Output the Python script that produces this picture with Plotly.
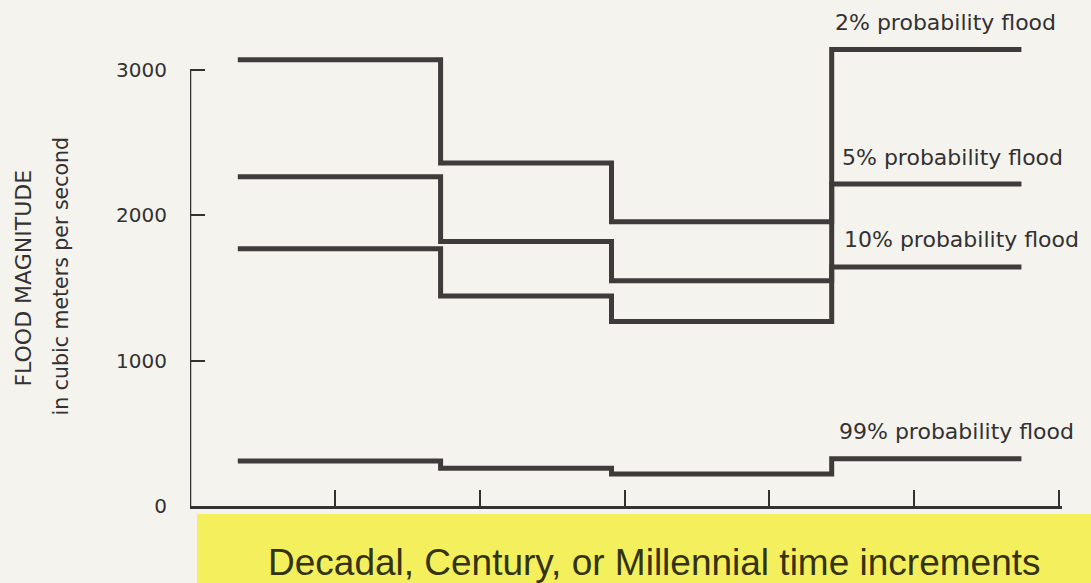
import plotly.graph_objects as go

# Time increments (x units) where each flood regime begins/ends
step_edges = [0.33, 1.73, 2.91, 4.43, 5.74]

# Flood magnitude (m^3/s) for each of the four time increments
flood_2pct = [3070, 2360, 1955, 3140]
flood_5pct = [2265, 1820, 1550, 2215]
flood_10pct = [1770, 1445, 1270, 1645]
flood_99pct = [310, 260, 220, 325]

series_names = ["2% probability flood", "5% probability flood",
                "10% probability flood", "99% probability flood"]
series_values = [flood_2pct, flood_5pct, flood_10pct, flood_99pct]
label_x = [4.44, 4.49, 4.50, 4.47]

y_ticks = [0, 1000, 2000, 3000]
x_ticks = [1, 2, 3, 4, 5, 6]

LINE = "#3f3b3b"
INK = "#333131"
LABEL_FONT = "DejaVu Sans"

fig = go.Figure()

for name, vals, lx in zip(series_names, series_values, label_x):
    fig.add_trace(go.Scatter(
        x=step_edges,
        y=vals + [vals[-1]],
        mode="lines",
        line=dict(color=LINE, width=5, shape="hv"),
        name=name,
        showlegend=False,
        hoverinfo="skip",
    ))
    fig.add_annotation(
        x=lx, y=vals[-1], xref="x", yref="y",
        text=name, showarrow=False, xanchor="left", yanchor="middle",
        yshift=27, font=dict(family=LABEL_FONT, size=22, color=INK),
    )

# vertical axis line only spans the labelled range
fig.add_shape(type="line", xref="x", yref="y", x0=0, x1=0, y0=0, y1=y_ticks[-1],
              line=dict(color=INK, width=2.5))

# yellow caption band under the time axis
fig.add_shape(type="rect", xref="paper", yref="paper",
              x0=0.008, x1=1.04, y0=-0.016, y1=-0.16,
              fillcolor="#f4ef5c", line=dict(width=0), layer="below")
fig.add_annotation(
    xref="paper", yref="paper", x=0.533, y=-0.112,
    text="Decadal, Century, or Millennial time increments",
    showarrow=False, xanchor="center", yanchor="middle",
    font=dict(family="Liberation Sans", size=37, color="#34330f"),
)

# y-axis title, two rotated lines
fig.add_annotation(
    xref="paper", yref="paper", x=-0.192, y=0.455,
    text="FLOOD MAGNITUDE", textangle=-90, showarrow=False,
    xanchor="center", yanchor="middle",
    font=dict(family=LABEL_FONT, size=22, color=INK),
)
fig.add_annotation(
    xref="paper", yref="paper", x=-0.148, y=0.46,
    text="in cubic meters per second", textangle=-90, showarrow=False,
    xanchor="center", yanchor="middle",
    font=dict(family=LABEL_FONT, size=20.5, color=INK),
)

fig.update_layout(
    width=1091, height=583,
    margin=dict(l=190, r=29, t=5, b=77),
    paper_bgcolor="#f4f3ee",
    plot_bgcolor="#f4f3ee",
    xaxis=dict(
        range=[0, 6.02], showgrid=False, zeroline=False,
        showline=True, linecolor=INK, linewidth=2.5,
        tickvals=x_ticks, ticks="inside", ticklen=16, tickwidth=2,
        tickcolor=INK, showticklabels=False,
    ),
    yaxis=dict(
        range=[0, 3447], showgrid=False, zeroline=False, showline=False,
        tickvals=y_ticks, ticks="inside", ticklen=15, tickwidth=2,
        tickcolor=INK, ticklabelstandoff=22,
        tickfont=dict(family=LABEL_FONT, size=20, color=INK),
    ),
)

fig.write_html("out.html")
